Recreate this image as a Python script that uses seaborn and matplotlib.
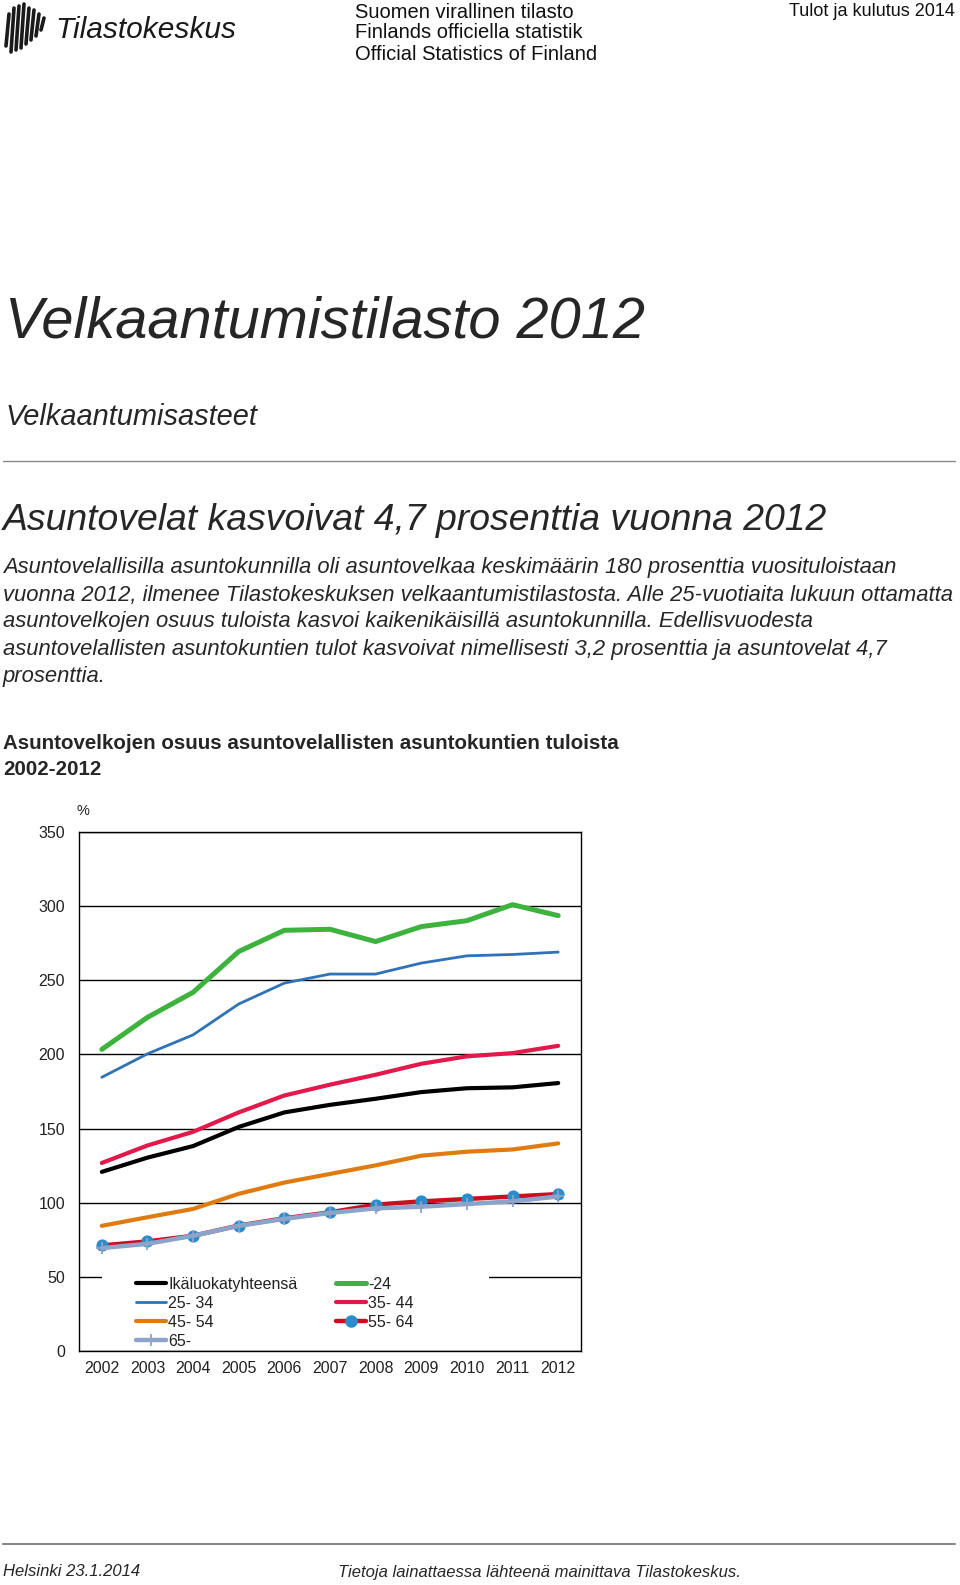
import numpy as np
import pandas as pd
import matplotlib
matplotlib.use("Agg")
import matplotlib.pyplot as plt
from matplotlib.patches import Rectangle
from matplotlib.lines import Line2D
import seaborn as sns

years = ["2002", "2003", "2004", "2005", "2006", "2007", "2008", "2009", "2010", "2011", "2012"]
total = [120.8, 130.4, 138.2, 151.1, 160.9, 166.0, 170.1, 174.6, 177.2, 177.8, 180.7]
age_24 = [203.4, 225.0, 241.9, 269.4, 283.7, 284.4, 276.1, 286.2, 290.2, 301.0, 293.6]
age_25_34 = [184.6, 200.4, 213.2, 234.0, 248.1, 254.2, 254.2, 261.6, 266.5, 267.4, 269.0]
age_35_44 = [126.8, 138.6, 147.8, 160.9, 172.3, 179.6, 186.3, 193.7, 198.7, 200.9, 205.8]
age_45_54 = [84.4, 90.2, 95.8, 106.0, 113.6, 119.4, 125.2, 131.7, 134.4, 135.9, 140.0]
age_55_64 = [71.2, 73.9, 77.7, 84.6, 89.5, 93.5, 98.7, 100.9, 102.5, 104.2, 105.8]
age_65 = [69.4, 72.3, 77.7, 84.4, 89.1, 93.1, 96.2, 97.3, 99.1, 100.9, 104.2]
series_labels = ["Ikäluokatyhteensä", "-24", "25- 34", "35- 44", "45- 54", "55- 64", "65-"]
y_ticks = [0, 50, 100, 150, 200, 250, 300, 350]

sns.set_style("white")
plt.rcParams["font.family"] = ["Liberation Sans", "DejaVu Sans"]

fig = plt.figure(figsize=(9.6, 15.85), dpi=100)
W, H = 960, 1585

def fx(x):
    return x / W

def fy(y):
    return 1 - y / H

# ---------- header ----------
fig.text(fx(55), fy(30), "Tilastokeskus", fontsize=21.5, style="italic", ha="left", va="center",
         color="#1a1a1a")
for (x0, y0, y1) in [(6, 14, 46), (11, 8, 52), (16, 6, 50), (21, 4, 48), (26, 8, 44),
                     (31, 10, 40), (36, 14, 36), (41, 18, 30)]:
    fig.add_artist(Line2D([fx(x0 + 3), fx(x0)], [fy(y0), fy(y1)], color="#1a1a1a", lw=2.6))
fig.text(fx(355), fy(13), "Suomen virallinen tilasto", fontsize=14.5, ha="left", va="center", color="#111111")
fig.text(fx(355), fy(33), "Finlands officiella statistik", fontsize=14.5, ha="left", va="center", color="#111111")
fig.text(fx(355), fy(54), "Official Statistics of Finland", fontsize=14.5, ha="left", va="center", color="#111111")
fig.text(fx(955), fy(12), "Tulot ja kulutus 2014", fontsize=13, ha="right", va="center", color="#111111")

fig.text(fx(5), fy(322), "Velkaantumistilasto 2012", fontsize=41.6, style="italic", ha="left", va="center")
fig.text(fx(5), fy(417), "Velkaantumisasteet", fontsize=20.9, style="italic", ha="left", va="center")
fig.add_artist(Line2D([fx(3), fx(955)], [fy(461), fy(461)], color="#888888", lw=1))
fig.text(fx(3), fy(521), "Asuntovelat kasvoivat 4,7 prosenttia vuonna 2012", fontsize=26.9, style="italic",
         ha="left", va="center")
para = [
    "Asuntovelallisilla asuntokunnilla oli asuntovelkaa keskimäärin 180 prosenttia vuosituloistaan",
    "vuonna 2012, ilmenee Tilastokeskuksen velkaantumistilastosta. Alle 25-vuotiaita lukuun ottamatta",
    "asuntovelkojen osuus tuloista kasvoi kaikenikäisillä asuntokunnilla. Edellisvuodesta",
    "asuntovelallisten asuntokuntien tulot kasvoivat nimellisesti 3,2 prosenttia ja asuntovelat 4,7",
    "prosenttia.",
]
for i, line in enumerate(para):
    fig.text(fx(3), fy(568 + i * 27), line, fontsize=15.8, style="italic", ha="left", va="center")
fig.text(fx(3), fy(744), "Asuntovelkojen osuus asuntovelallisten asuntokuntien tuloista", fontsize=14.8,
         fontweight="bold", ha="left", va="center")
fig.text(fx(3), fy(769), "2002-2012", fontsize=14.8, fontweight="bold", ha="left", va="center")

# footer
fig.add_artist(Line2D([fx(3), fx(955)], [fy(1544), fy(1544)], color="#888888", lw=1.5))
fig.text(fx(3), fy(1572), "Helsinki 23.1.2014", fontsize=12, style="italic", ha="left", va="center")
fig.text(fx(338), fy(1572), "Tietoja lainattaessa lähteenä mainittava Tilastokeskus.", fontsize=12,
         style="italic", ha="left", va="center")

# ---------- chart ----------
ax = fig.add_axes([fx(79), 1 - 1351 / H, 502 / W, 519 / H])
ax.set_facecolor("white")

styles = [
    (total, "#000000", 3.0, None, {}),
    (age_24, "#3db33d", 3.6, None, {}),
    (age_25_34, "#2f72b5", 2.0, None, {}),
    (age_35_44, "#e3184b", 3.0, None, {}),
    (age_45_54, "#e07b12", 3.0, None, {}),
    (age_55_64, "#c8101e", 3.2, "o", dict(markersize=8, markerfacecolor="#2b8ccc", markeredgecolor="#2b8ccc")),
    (age_65, "#8ea3c9", 3.2, "+", dict(markersize=9, markeredgecolor="#8ea3c9", markeredgewidth=1.3)),
]
handles = []
for (vals, col, lw, mk, kw), lab in zip(styles, series_labels):
    df = pd.DataFrame({"year": years, "value": vals})
    sns.lineplot(data=df, x="year", y="value", ax=ax, color=col, lw=lw, marker=mk, label=lab,
                 legend=False, **kw)
    handles.append(Line2D([], [], color=col, lw=lw, marker=mk, **kw))

ax.set_xlim(-0.5, len(years) - 0.5)
ax.set_ylim(0, 350)
ax.set_yticks(y_ticks)
ax.set_yticklabels([str(v) for v in y_ticks])
ax.set_xticks(range(len(years)))
ax.set_xticklabels(years)
ax.set_xticks(np.arange(-0.5, len(years), 1.0), minor=True)
ax.tick_params(axis="x", which="major", length=0, pad=7, labelsize=11.5, labelcolor="#222222")
ax.tick_params(axis="x", which="minor", length=5, width=1, color="black", direction="out")
ax.tick_params(axis="y", which="major", length=5, width=1, color="black", direction="out", pad=5,
               labelsize=11.5, labelcolor="#222222")
ax.set_xlabel("")
ax.set_ylabel("")
ax.yaxis.grid(True, color="black", lw=1)
ax.xaxis.grid(False)
ax.set_axisbelow(True)
for s in ax.spines.values():
    s.set_visible(True)
    s.set_color("black")
    s.set_linewidth(1)

ax.text(-0.005, 1.04, "%", transform=ax.transAxes, fontsize=10.5, ha="left", va="center", color="#222222")

# legend area
ax.add_patch(Rectangle((0.046, 0.003), 0.77, 0.16, transform=ax.transAxes, facecolor="white",
                       edgecolor="none", zorder=1))
order = [0, 2, 4, 6, 1, 3, 5]
leg = ax.legend([handles[i] for i in order], [series_labels[i] for i in order], ncol=2,
                loc="upper left", bbox_to_anchor=((128 - 79) / 502, (1351 - 1269) / 519),
                frameon=False, borderpad=0, handlelength=1.9, handletextpad=0.12,
                labelspacing=0.25, columnspacing=2.4, fontsize=11.5, markerscale=1.0)
for t in leg.get_texts():
    t.set_color("#222222")

fig.savefig("out.png", dpi=100, facecolor="white")
